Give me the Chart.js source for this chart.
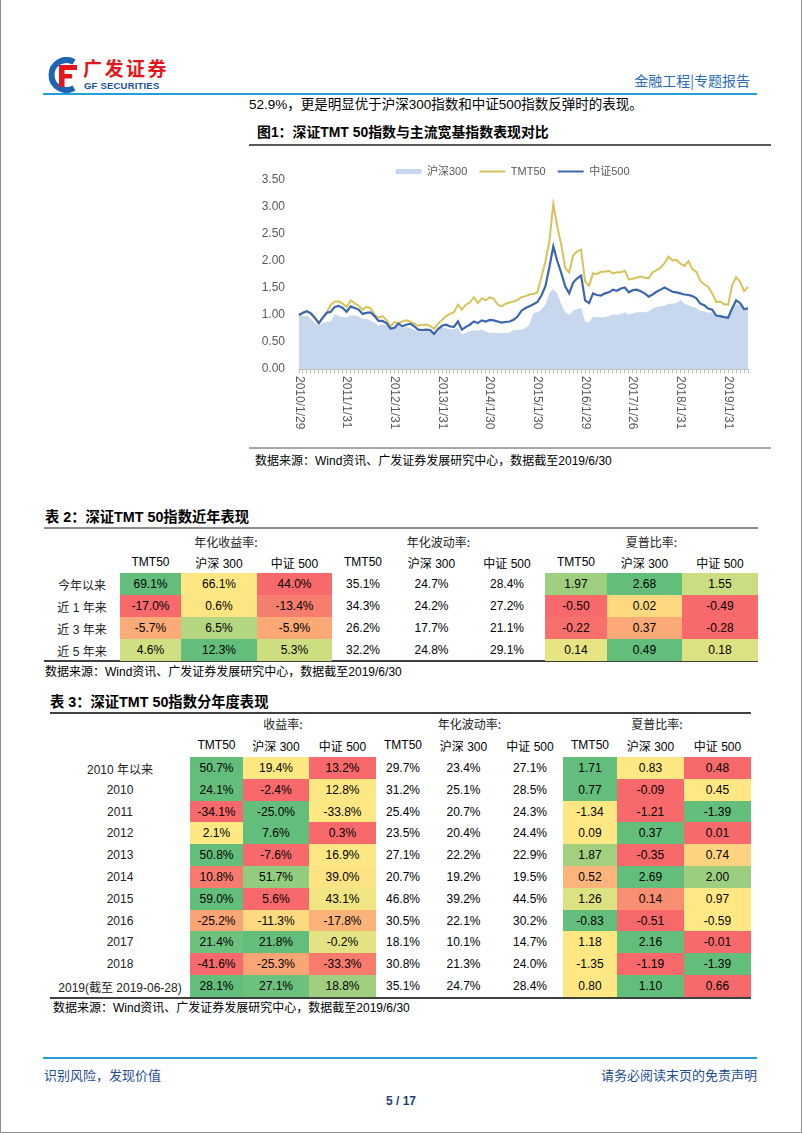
<!DOCTYPE html>
<html>
<head>
<meta charset="utf-8">
<script src="https://cdn.jsdelivr.net/npm/chart.js@4.4.0/dist/chart.umd.min.js"></script>
<style>
html,body{margin:0;padding:0;background:#fff;}
#page{position:relative;width:802px;height:1133px;overflow:hidden;background:#fff;
 font-family:"Liberation Sans",Arial,"Noto Sans CJK SC",sans-serif;color:#000;}
.a{position:absolute;white-space:nowrap;}
.hl{position:absolute;}
</style>
</head>
<body>
<div id="page">
  <div class="hl" style="left:0;top:0;width:1px;height:1133px;background:#8c8c8c"></div>
  <div class="hl" style="left:801px;top:0;width:1px;height:1133px;background:#8c8c8c"></div>
  <div class="hl" style="left:0;top:1132px;width:802px;height:1px;background:#8c8c8c"></div>

  <!-- logo -->
  <svg class="a" style="left:45px;top:57px" width="38" height="36" viewBox="0 0 38 36">
    <path d="M29 5 A15 15 0 1 0 29 31" fill="none" stroke="#1e64b4" stroke-width="6"/>
    <rect x="14" y="8" width="18" height="5" fill="#e4161c"/>
    <rect x="14" y="8" width="5.5" height="22" fill="#e4161c"/>
    <rect x="14" y="17" width="13" height="4.5" fill="#e4161c"/>
  </svg>
  <div class="a" style="left:83px;top:56px;font-size:19px;line-height:24px;font-weight:bold;color:#e4161c;letter-spacing:2.5px;font-family:'Noto Sans CJK SC',sans-serif">广发证券</div>
  <div class="a" style="left:84px;top:80px;font-size:9.5px;line-height:11px;font-weight:bold;color:#1b4f9c;letter-spacing:0.2px">GF SECURITIES</div>
  <div class="a" style="right:52px;top:71px;font-size:14px;line-height:18px;color:#2c6db5;font-family:'Noto Sans CJK SC',sans-serif">金融工程|专题报告</div>
  <div class="hl" style="left:43px;top:93px;width:714px;height:2px;background:#20a0d8"></div>

  <div class="a" style="left:249px;top:95px;font-size:13.5px;line-height:20px">52.9%，更是明显优于沪深300指数和中证500指数反弹时的表现。</div>
  <div class="a" style="left:257px;top:122px;font-size:13.9px;line-height:20px;font-weight:bold">图1：深证TMT 50指数与主流宽基指数表现对比</div>
  <div class="hl" style="left:249px;top:144px;width:522px;height:2px;background:#595959"></div>

  <div class="a" id="cwrap" style="left:249px;top:154px;width:521px;height:287px"><canvas id="c"></canvas></div>

  <div class="hl" style="left:249px;top:447px;width:522px;height:2px;background:#a6a6a6"></div>
  <div class="a" style="left:255px;top:452px;font-size:12px;line-height:18px">数据来源：Wind资讯、广发证券发展研究中心，数据截至2019/6/30</div>

  <div class="a" style="left:45px;top:507px;font-size:14.3px;line-height:20px;font-weight:bold">表 2：深证TMT 50指数近年表现</div>
  <div class="hl" style="left:44px;top:527px;width:714px;height:2px;background:#8c8c8c"></div>
  <div class="hl" style="left:44px;top:660px;width:714px;height:2px;background:#404040"></div>
  <div class="a" style="left:45px;top:663px;font-size:12px;line-height:18px">数据来源：Wind资讯、广发证券发展研究中心，数据截至2019/6/30</div>

  <div class="a" style="left:50px;top:692px;font-size:14.3px;line-height:20px;font-weight:bold">表 3：深证TMT 50指数分年度表现</div>
  <div class="hl" style="left:50px;top:712px;width:701px;height:2px;background:#404040"></div>
  <div class="hl" style="left:50px;top:997px;width:701px;height:2px;background:#404040"></div>
  <div class="a" style="left:53px;top:999px;font-size:12px;line-height:18px">数据来源：Wind资讯、广发证券发展研究中心，数据截至2019/6/30</div>

  <div class="hl" style="left:43px;top:1057px;width:714px;height:2px;background:#20a0d8"></div>
  <div class="a" style="left:44px;top:1066px;font-size:13px;line-height:18px;color:#1f4e8c;font-family:'Noto Sans CJK SC',sans-serif">识别风险，发现价值</div>
  <div class="a" style="right:45px;top:1066px;font-size:13px;line-height:18px;color:#1f4e8c;font-family:'Noto Sans CJK SC',sans-serif">请务必阅读末页的免责声明</div>
  <div class="a" style="left:381px;top:1092px;width:40px;text-align:center;font-size:12px;line-height:18px;font-weight:bold;color:#1f3f70">5 / 17</div>
</div>

<script>
// ---------- chart data ----------
const dates = [
"2010/1/29","2010/2/26","2010/3/31","2010/4/30","2010/5/31","2010/6/30","2010/7/30","2010/8/31","2010/9/30","2010/10/29","2010/11/30","2010/12/31",
"2011/1/31","2011/2/28","2011/3/31","2011/4/29","2011/5/31","2011/6/30","2011/7/29","2011/8/31","2011/9/30","2011/10/31","2011/11/30","2011/12/30",
"2012/1/31","2012/2/29","2012/3/30","2012/4/27","2012/5/31","2012/6/29","2012/7/31","2012/8/31","2012/9/28","2012/10/31","2012/11/30","2012/12/31",
"2013/1/31","2013/2/28","2013/3/29","2013/4/26","2013/5/31","2013/6/28","2013/7/31","2013/8/30","2013/9/30","2013/10/31","2013/11/29","2013/12/31",
"2014/1/30","2014/2/28","2014/3/31","2014/4/30","2014/5/30","2014/6/30","2014/7/31","2014/8/29","2014/9/30","2014/10/31","2014/11/28","2014/12/31",
"2015/1/30","2015/2/27","2015/3/31","2015/4/30","2015/5/29","2015/6/30","2015/7/31","2015/8/31","2015/9/30","2015/10/30","2015/11/30","2015/12/31",
"2016/1/29","2016/2/29","2016/3/31","2016/4/29","2016/5/31","2016/6/30","2016/7/29","2016/8/31","2016/9/30","2016/10/31","2016/11/30","2016/12/30",
"2017/1/26","2017/2/28","2017/3/31","2017/4/28","2017/5/31","2017/6/30","2017/7/31","2017/8/31","2017/9/29","2017/10/31","2017/11/30","2017/12/29",
"2018/1/31","2018/2/28","2018/3/30","2018/4/27","2018/5/31","2018/6/29","2018/7/31","2018/8/31","2018/9/28","2018/10/31","2018/11/30","2018/12/28",
"2019/1/31","2019/2/28","2019/3/29","2019/4/30","2019/5/31","2019/6/28"];

const tickLabels = ["2010/1/29","2011/1/31","2012/1/31","2013/1/31","2014/1/30","2015/1/30","2016/1/29","2017/1/26","2018/1/31","2019/1/31"];

const hs300 = [
1.00,0.98,0.98,0.93,0.85,0.80,0.86,0.87,0.88,1.02,0.98,0.96,
0.96,0.99,0.99,0.97,0.92,0.93,0.90,0.86,0.80,0.83,0.81,0.73,
0.76,0.79,0.76,0.78,0.76,0.72,0.70,0.69,0.70,0.69,0.65,0.74,
0.77,0.76,0.73,0.74,0.76,0.64,0.67,0.70,0.72,0.71,0.73,0.70,
0.67,0.67,0.67,0.66,0.67,0.67,0.72,0.72,0.73,0.76,0.83,1.04,
1.05,1.10,1.19,1.40,1.48,1.40,1.20,1.05,1.00,1.08,1.11,1.13,
0.88,0.86,0.97,0.96,0.96,0.96,0.98,1.01,1.00,1.02,1.05,1.01,
1.03,1.05,1.05,1.05,1.07,1.12,1.15,1.16,1.17,1.21,1.21,1.22,
1.28,1.21,1.18,1.15,1.13,1.07,1.07,1.04,1.05,0.98,0.99,0.93,
0.99,1.14,1.20,1.18,1.12,1.17];

const tmt50 = [
1.00,1.04,1.07,1.02,0.93,0.84,0.96,1.05,1.19,1.25,1.25,1.21,
1.15,1.27,1.22,1.17,1.10,1.15,1.13,1.01,0.95,0.98,0.91,0.79,
0.87,0.85,0.88,0.90,0.88,0.84,0.80,0.82,0.82,0.80,0.74,0.84,
0.91,0.98,1.02,1.05,1.19,1.10,1.19,1.23,1.33,1.22,1.31,1.27,
1.33,1.30,1.19,1.16,1.21,1.23,1.25,1.28,1.33,1.35,1.38,1.39,
1.42,1.70,1.99,2.36,3.06,2.64,2.30,1.87,1.79,2.10,2.18,2.21,
1.62,1.54,1.77,1.76,1.80,1.80,1.82,1.77,1.79,1.79,1.82,1.66,
1.67,1.69,1.71,1.69,1.68,1.79,1.83,1.88,1.96,2.08,2.01,2.02,
1.95,1.91,2.00,1.85,1.80,1.63,1.57,1.52,1.40,1.24,1.25,1.20,
1.19,1.55,1.70,1.62,1.44,1.52];

const zz500 = [
1.00,1.04,1.07,1.03,0.95,0.85,0.95,1.04,1.06,1.15,1.17,1.13,
1.06,1.16,1.13,1.10,1.02,1.04,1.05,0.98,0.89,0.89,0.85,0.75,
0.76,0.84,0.79,0.82,0.84,0.79,0.73,0.72,0.73,0.72,0.65,0.74,
0.80,0.82,0.79,0.78,0.88,0.73,0.78,0.82,0.88,0.85,0.90,0.88,
0.91,0.90,0.88,0.86,0.87,0.88,0.91,0.97,1.08,1.13,1.16,1.20,
1.24,1.36,1.53,1.88,2.27,2.00,1.78,1.53,1.40,1.60,1.68,1.73,
1.27,1.22,1.40,1.37,1.36,1.40,1.42,1.47,1.45,1.49,1.51,1.42,
1.46,1.47,1.44,1.40,1.34,1.38,1.43,1.47,1.51,1.47,1.43,1.42,
1.40,1.38,1.37,1.35,1.31,1.21,1.18,1.12,1.10,0.99,0.98,0.96,
0.95,1.12,1.27,1.22,1.11,1.12];

const seriesNames = ["沪深300","TMT50","中证500"];
const yTicks = [0,0.5,1,1.5,2,2.5,3,3.5];

// ---------- table data ----------
const colNames = ["TMT50","沪深 300","中证 500"];
const t2GroupNames = ["年化收益率:","年化波动率:","夏普比率:"];
const t3GroupNames = ["收益率:","年化波动率:","夏普比率:"];

const t2Rows = ["今年以来","近 1 年来","近 3 年来","近 5 年来"];
const t2Ret = [[69.1,66.1,44.0],[-17.0,0.6,-13.4],[-5.7,6.5,-5.9],[4.6,12.3,5.3]];
const t2Vol = [[35.1,24.7,28.4],[34.3,24.2,27.2],[26.2,17.7,21.1],[32.2,24.8,29.1]];
const t2Sharpe = [[1.97,2.68,1.55],[-0.50,0.02,-0.49],[-0.22,0.37,-0.28],[0.14,0.49,0.18]];

const t3Rows = ["2010 年以来","2010","2011","2012","2013","2014","2015","2016","2017","2018","2019(截至 2019-06-28)"];
const t3Ret = [[50.7,19.4,13.2],[24.1,-2.4,12.8],[-34.1,-25.0,-33.8],[2.1,7.6,0.3],[50.8,-7.6,16.9],[10.8,51.7,39.0],[59.0,5.6,43.1],[-25.2,-11.3,-17.8],[21.4,21.8,-0.2],[-41.6,-25.3,-33.3],[28.1,27.1,18.8]];
const t3Vol = [[29.7,23.4,27.1],[31.2,25.1,28.5],[25.4,20.7,24.3],[23.5,20.4,24.4],[27.1,22.2,22.9],[20.7,19.2,19.5],[46.8,39.2,44.5],[30.5,22.1,30.2],[18.1,10.1,14.7],[30.8,21.3,24.0],[35.1,24.7,28.4]];
const t3Sharpe = [[1.71,0.83,0.48],[0.77,-0.09,0.45],[-1.34,-1.21,-1.39],[0.09,0.37,0.01],[1.87,-0.35,0.74],[0.52,2.69,2.00],[1.26,0.14,0.97],[-0.83,-0.51,-0.59],[1.18,2.16,-0.01],[-1.35,-1.19,-1.39],[0.80,1.10,0.66]];

// ---------- styles (cell colours) ----------
const G="#63BE7B", Y="#FFE884", R="#F8696B";
const t2RetC = [[G,Y,R],[R,"#FEE583","#F57E6E"],["#FBAB77","#B4D680","#FBA877"],["#D0DF82",G,"#CDDE81"]];
const t2ShC = [["#9DCF7F",G,"#CBDD81"],[R,"#FED980",R],["#F8706C","#FBAA77",R],["#E6E483",G,"#DCE182"]];
const t3RetC = [[G,Y,R],[G,R,Y],[R,G,Y],[Y,G,R],[G,R,Y],["#F67B6E","#92CC7E","#FDE383"],[G,R,"#F1E683"],["#FBA476","#FDD980","#FBB379"],["#6EC17C",G,"#E3E383"],[R,"#FBA476","#F87B6E"],[G,"#6CC17C","#A0D07F"]];
const t3ShC = [[G,Y,R],[G,R,Y],[Y,R,G],[Y,G,R],["#A2D07F",R,"#FDD37F"],["#FBB479",G,"#9BCF7F"],["#DCE182","#F88E72","#FFE784"],[G,R,Y],[Y,G,R],[Y,R,G],[Y,G,R]];

// ---------- tables ----------
const page = document.getElementById('page');
function box(x, y, w, h, text, st) {
  const d = document.createElement('div');
  d.style.cssText = 'position:absolute;left:'+x+'px;top:'+y+'px;width:'+w+'px;height:'+h+'px;display:flex;align-items:center;justify-content:center;white-space:nowrap;font-size:12px;' + (st||'');
  d.textContent = text; page.appendChild(d); return d;
}
const pct = v => v.toFixed(1) + '%';
const num2 = v => v.toFixed(2);
function drawTable(t) {
  const e = t.edges;
  t.groupNames.forEach((g, gi) => box(e[1+gi*3], t.h1-10, e[4+gi*3]-e[1+gi*3], 20, g, 'font-family:"Noto Sans CJK SC",sans-serif;color:#222;'));
  for (let c = 0; c < 9; c++) box(e[1+c], t.h2-10, e[2+c]-e[1+c], 20, colNames[c%3]);
  t.rows.forEach((lbl, r) => {
    const y0 = Math.round(t.top + r*t.rowH), y1 = Math.round(t.top + (r+1)*t.rowH);
    box(e[0], y0, e[1]-e[0], y1-y0, lbl, 'color:#222;');
    t.groups.forEach((g, gi) => {
      for (let k = 0; k < 3; k++) {
        const c = 1 + gi*3 + k;
        const bg = g.colors ? g.colors[r][k] : 'transparent';
        box(e[c], y0, e[c+1]-e[c], y1-y0, g.fmt(g.vals[r][k]), 'background:'+bg+';');
      }
    });
  });
}
drawTable({edges:[44,120,181,257,332,394,469,545,607,682,758], h1:541.5, h2:562, top:573, rowH:21.9,
  groupNames:t2GroupNames, rows:t2Rows,
  groups:[{vals:t2Ret,colors:t2RetC,fmt:pct},{vals:t2Vol,colors:null,fmt:pct},{vals:t2Sharpe,colors:t2ShC,fmt:num2}]});
drawTable({edges:[50,190,243,309,376,430,497,563,617,684,751], h1:723.5, h2:745, top:757, rowH:21.8,
  groupNames:t3GroupNames, rows:t3Rows,
  groups:[{vals:t3Ret,colors:t3RetC,fmt:pct},{vals:t3Vol,colors:null,fmt:pct},{vals:t3Sharpe,colors:t3ShC,fmt:num2}]});

// ---------- chart ----------
Chart.defaults.font.family = '"Liberation Sans", Arial, "Noto Sans CJK SC", sans-serif';
const xLabels = {
  id: 'xLabels',
  afterDraw(chart) {
    const xs = chart.scales.x, c = chart.ctx;
    c.save();
    c.fillStyle = '#595959';
    c.font = '12px "Liberation Sans", Arial, sans-serif';
    c.textAlign = 'left'; c.textBaseline = 'middle';
    tickLabels.forEach(lbl => {
      const i = dates.indexOf(lbl);
      const x = xs.getPixelForValue(i);
      c.save(); c.translate(x, xs.top + 7); c.rotate(Math.PI/2); c.fillText(lbl, 0, 0); c.restore();
    });
    c.restore();
  }
};
const legendTweak = {
  id: 'legendTweak',
  beforeLayout(chart) {
    const lg = chart.legend;
    if (lg && !lg.__p) {
      const f = lg.fit;
      lg.fit = function() { f.apply(this, arguments); this.height = Math.max(0, this.height - 7); };
      lg.__p = true;
    }
  },
  afterLayout(chart) {
    const lg = chart.legend;
    if (lg) { lg.left += 14; lg.right += 14; }
  }
};
const colors = ['#C6D7EE', '#D6C35C', '#3B67AE'];
new Chart(document.getElementById('c'), {
  type: 'line',
  data: {
    labels: dates,
    datasets: [
      {label: seriesNames[0], data: hs300, fill: 'origin', backgroundColor: colors[0], borderColor: colors[0], borderWidth: 0, pointRadius: 0, order: 3},
      {label: seriesNames[1], data: tmt50, fill: false, borderColor: colors[1], borderWidth: 2, pointRadius: 0, order: 2},
      {label: seriesNames[2], data: zz500, fill: false, borderColor: colors[2], borderWidth: 2.2, pointRadius: 0, order: 1}
    ]
  },
  options: {
    animation: false, responsive: true, maintainAspectRatio: false,
    layout: {padding: {top: 0, right: 22, bottom: 0, left: 0}},
    elements: {line: {tension: 0}},
    plugins: {
      tooltip: {enabled: false},
      legend: {
        display: true, position: 'top', align: 'center',
        labels: {
          usePointStyle: true, pointStyleWidth: 26, color: '#595959', font: {size: 11}, padding: 12,
          sort: (a, b) => a.datasetIndex - b.datasetIndex,
          generateLabels(chart) {
            const items = Chart.defaults.plugins.legend.labels.generateLabels(chart);
            items.forEach(it => {
              it.pointStyle = 'line';
              it.strokeStyle = colors[it.datasetIndex];
              it.fillStyle = colors[it.datasetIndex];
              it.lineWidth = it.datasetIndex === 0 ? 5 : 2;
            });
            return items;
          }
        }
      }
    },
    scales: {
      x: {
        grid: {display: true, drawOnChartArea: false, drawTicks: true, tickLength: 4, color: '#BFBFBF'},
        border: {display: true, color: '#BFBFBF'},
        ticks: {display: false, autoSkip: false},
        afterFit(s) { s.height = 72; }
      },
      y: {
        min: yTicks[0], max: yTicks[yTicks.length-1],
        afterBuildTicks(s) { s.ticks = yTicks.map(v => ({value: v})); },
        ticks: {color: '#595959', font: {size: 12}, padding: 14, callback: v => Number(v).toFixed(2)},
        grid: {display: false, drawTicks: false},
        border: {display: false},
        afterFit(s) { s.width = 50; }
      }
    }
  },
  plugins: [legendTweak, xLabels]
});
</script>
</body>
</html>
